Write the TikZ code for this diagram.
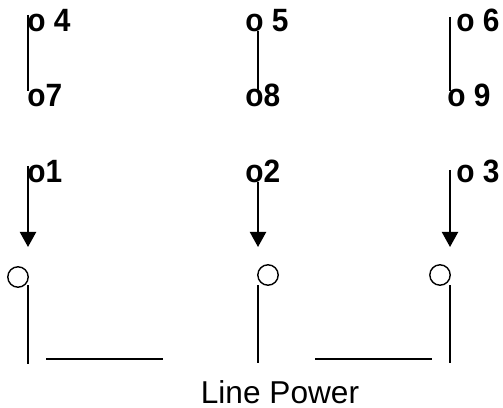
\documentclass[tikz,border=0pt]{standalone}
\usepackage{fontspec}
\setmainfont{Liberation Sans}
\usetikzlibrary{arrows.meta}
\tikzset{
	pin/.style={anchor=base west,inner sep=0pt,font=\fontsize{17}{20}\selectfont\bfseries,yscale=1.08,transform shape},
	wire/.style={line width=1.1pt},
	lead/.style={wire,-{Triangle[width=9.2pt,length=8.6pt]}},
	contact/.style={circle,draw,line width=0.8pt,minimum size=11.6pt,inner sep=0pt}
}
\begin{document}
\begin{tikzpicture}[x=0.02cm,y=-0.02cm]
\useasboundingbox (0,0) rectangle (503,408);

	\node[pin] (P4) at (27,32) {o 4};
	\node[pin] (P5) at (245,32) {o 5};
	\node[pin] (P6) at (456,32) {o 6};
	\node[pin] (P7) at (27,107) {o7};
	\node[pin] (P8) at (245,107) {o8};
	\node[pin] (P9) at (447,107) {o 9};
	\node[pin] (P1) at (27,183) {o1};
	\node[pin] (P2) at (245,183) {o2};
	\node[pin] (P3) at (456,183) {o 3};

	\node[contact] (C1) at (18,277) {};
	\node[contact] (C2) at (268,275) {};
	\node[contact] (C3) at (440,275) {};

	\coordinate (T4) at (28,15);
	\coordinate (B7) at (28,91);
	\coordinate (T5) at (258,31);
	\coordinate (B8) at (258,91);
	\coordinate (T6) at (450,17);
	\coordinate (B9) at (450,91);
	\coordinate (T1) at (28,166);
	\coordinate (A1) at (28,247);
	\coordinate (T2) at (258,182);
	\coordinate (A2) at (258,247);
	\coordinate (T3) at (450,170);
	\coordinate (A3) at (450,247);
	\coordinate (U1) at (28,285);
	\coordinate (D1) at (28,364);
	\coordinate (U2) at (258,285);
	\coordinate (D2) at (258,363);
	\coordinate (U3) at (450,285);
	\coordinate (D3) at (450,363);
	\coordinate (L1) at (46,359);
	\coordinate (R1) at (163,359);
	\coordinate (L2) at (315,359);
	\coordinate (R2) at (432,359);

	\draw[wire] (T4) -- (B7);
	\draw[wire] (T5) -- (B8);
	\draw[wire] (T6) -- (B9);

	\draw[lead] (T1) -- (A1);
	\draw[lead] (T2) -- (A2);
	\draw[lead] (T3) -- (A3);

	\draw[wire] (U1) -- (D1);
	\draw[wire] (U2) -- (D2);
	\draw[wire] (U3) -- (D3);
	\draw[wire] (L1) -- (R1);
	\draw[wire] (L2) -- (R2);

	\node[anchor=base,inner sep=0pt,font=\fontsize{18}{20}\selectfont] (LP) at (280,403) {Line Power};
\end{tikzpicture}
\end{document}
